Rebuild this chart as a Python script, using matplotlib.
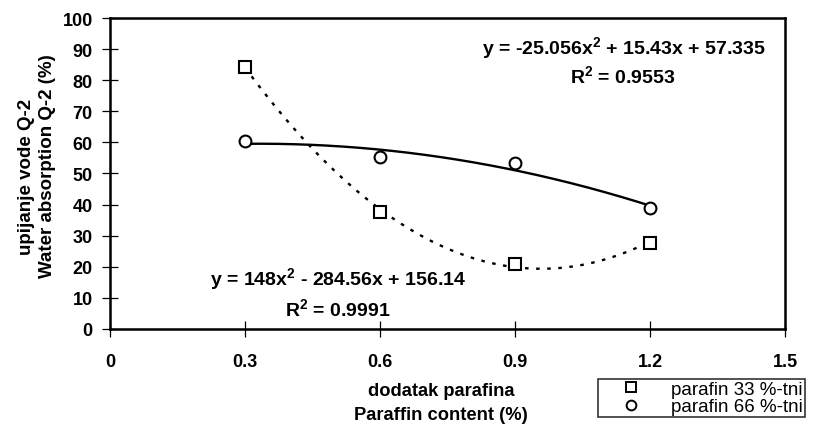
import numpy as np
import matplotlib.pyplot as plt
from matplotlib.lines import Line2D

plt.rcParams['font.family'] = ['Liberation Sans', 'DejaVu Sans']
plt.rcParams['mathtext.fontset'] = 'custom'
plt.rcParams['mathtext.bf'] = 'Liberation Sans:bold'
plt.rcParams['mathtext.rm'] = 'Liberation Sans:bold'
plt.rcParams['mathtext.default'] = 'bf'

# data
x = [0.3, 0.6, 0.9, 1.2]
y33 = [84.4, 37.6, 20.8, 27.8]
y66 = [60.3, 55.4, 53.3, 38.9]
labels = ['parafin 33 %-tni', 'parafin 66 %-tni']
eq33 = [r'y = 148x$^2$ - 284.56x + 156.14', r'R$^2$ = 0.9991']
eq66 = [r'y = -25.056x$^2$ + 15.43x + 57.335', r'R$^2$ = 0.9553']

fig = plt.figure(figsize=(8.19, 4.27), dpi=100)
ax = fig.add_axes([0.1343, 0.2272, 0.8242, 0.7283])

# trendlines (polynomial, order 2)
xs = np.linspace(0.3, 1.2, 200)
p33 = np.polyfit(x, y33, 2)
p66 = np.polyfit(x, y66, 2)
ax.plot(xs, np.polyval(p33, xs), color='black', lw=1.7, dashes=(1.5, 3.2))
ax.plot(xs, np.polyval(p66, xs), color='black', lw=1.7)

ax.plot(x, y33, 's', ms=8, mfc='white', mec='black', mew=1.5, zorder=3)
ax.plot(x, y66, 'o', ms=8.5, mfc='white', mec='black', mew=1.5, zorder=3)

ax.set_xlim(0, 1.5)
ax.set_ylim(0, 100)
ax.set_xticks([0, 0.3, 0.6, 0.9, 1.2, 1.5])
ax.set_xticklabels(['0', '0.3', '0.6', '0.9', '1.2', '1.5'])
ax.set_yticks(np.arange(0, 101, 10))
ax.tick_params(direction='inout', length=11, width=0.9, labelsize=13)
ax.tick_params(axis='x', pad=12)
ax.tick_params(axis='y', pad=7)
for t in ax.get_xticklabels() + ax.get_yticklabels():
    t.set_fontweight('bold')
for s in ax.spines.values():
    s.set_linewidth(1.8)

# equations
fs_eq = 14
fig.text(624 / 819, 1 - 48 / 427, eq66[0], ha='center', va='center', fontsize=fs_eq, fontweight='bold')
fig.text(623 / 819, 1 - 76 / 427, eq66[1], ha='center', va='center', fontsize=fs_eq, fontweight='bold')
fig.text(338 / 819, 1 - 279 / 427, eq33[0], ha='center', va='center', fontsize=fs_eq, fontweight='bold')
fig.text(338 / 819, 1 - 309 / 427, eq33[1], ha='center', va='center', fontsize=fs_eq, fontweight='bold')

# axis labels
fig.text(441 / 819, 1 - 392 / 427, 'dodatak parafina', ha='center', va='center',
         fontsize=13.2, fontweight='bold')
fig.text(441 / 819, 1 - 416 / 427, 'Paraffin content (%)', ha='center', va='center',
         fontsize=13.2, fontweight='bold')
fig.text(27 / 819, 1 - 177 / 427, 'upijanje vode Q-2', ha='center', va='center',
         rotation=90, fontsize=13.5, fontweight='bold')
fig.text(48 / 819, 1 - 166 / 427, 'Water absorption Q-2 (%)', ha='center', va='center',
         rotation=90, fontsize=13.5, fontweight='bold')

# legend
handles = [Line2D([], [], ls='none', marker='s', ms=7, mfc='white', mec='black', mew=1.4),
           Line2D([], [], ls='none', marker='o', ms=7, mfc='white', mec='black', mew=1.4)]
leg = fig.legend(handles, labels, loc='upper left', bbox_to_anchor=(598 / 819, 1 - 380 / 427),
                 frameon=True, fancybox=False, fontsize=13.5, handlelength=3.3,
                 handletextpad=0.5, borderpad=0.1, labelspacing=0.0, borderaxespad=0)
leg.get_frame().set_edgecolor('black')
leg.get_frame().set_linewidth(1.2)

fig.savefig('out.png', dpi=100)
